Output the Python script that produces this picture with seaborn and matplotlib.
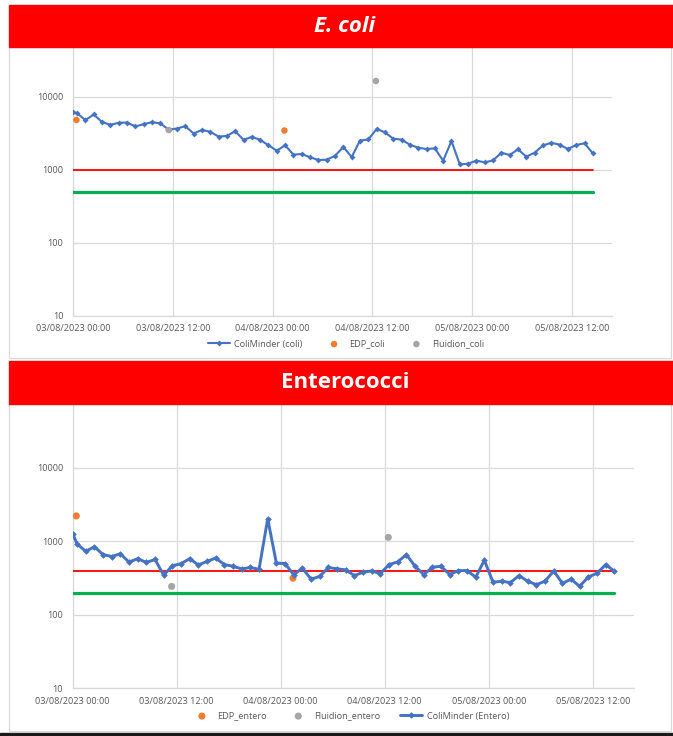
import numpy as np
import pandas as pd
import matplotlib
matplotlib.use("Agg")
import matplotlib.pyplot as plt
import matplotlib.dates as mdates
from matplotlib.patches import Rectangle
from matplotlib.ticker import FixedLocator, FuncFormatter, NullLocator
import seaborn as sns

sns.set_theme(style="white")
plt.rcParams["font.family"] = ["Open Sans", "DejaVu Sans"]

# ---------------- data ----------------
start = pd.Timestamp("2023-08-03 00:00")
sample_hours = [0.0] + [0.5 + k for k in range(63)]
times = start + pd.to_timedelta(sample_hours, unit="h")

coli_values = [6200, 5900, 4780, 5710, 4480, 4120, 4390, 4430, 3910, 4210,
               4480, 4300, 3550, 3660, 3950, 3130, 3510, 3300, 2840, 2900,
               3370, 2560, 2820, 2560, 2160, 1820, 2160, 1610, 1640, 1480,
               1360, 1370, 1550, 2050, 1490, 2500, 2600, 3610, 3250, 2660,
               2580, 2200, 2000, 1920, 1960, 1330, 2470, 1180, 1210, 1330,
               1260, 1340, 1710, 1590, 1900, 1510, 1710, 2150, 2340, 2200,
               1920, 2180, 2300, 1670]
entero_values = [1270, 920, 730, 840, 660, 620, 675, 520, 580, 515,
                 565, 345, 465, 495, 580, 475, 532, 590, 482, 457,
                 420, 440, 415, 2020, 505, 497, 350, 430, 305, 332,
                 440, 421, 408, 341, 379, 395, 363, 482, 524, 659,
                 457, 352, 443, 457, 352, 399, 399, 324, 551, 277,
                 286, 274, 341, 286, 257, 286, 395, 268, 304, 244,
                 327, 367, 482, 391]

edp_coli_times = ["2023-08-03 00:25", "2023-08-04 01:25"]
edp_coli_values = [4800, 3440]
fluidion_coli_times = ["2023-08-03 11:30", "2023-08-04 12:25"]
fluidion_coli_values = [3500, 16400]

edp_entero_times = ["2023-08-03 00:25", "2023-08-04 01:25"]
edp_entero_values = [2210, 315]
fluidion_entero_times = ["2023-08-03 11:25", "2023-08-04 12:25"]
fluidion_entero_values = [243, 1130]

coli_limits = [1000, 500]
entero_limits = [400, 200]

xtick_hours = [0, 12, 24, 36, 48, 60]
ytick_values = [10, 100, 1000, 10000]

# ---------------- layout ----------------
W, H = 673, 736
def fy(px):
    return 1 - px / H

BLUE, ORANGE, GRAY = "#4472C4", "#ED7D31", "#A5A5A5"
RED, GREEN = "#FF0000", "#00B050"
TXT, GRID = "#595959", "#D9D9D9"

fig = plt.figure(figsize=(W / 100, H / 100), dpi=100)
fig.patch.set_facecolor("white")

ax1 = fig.add_axes([73 / W, fy(315.7), (612 - 73) / W, (315.7 - 23.7) / H])
ax2 = fig.add_axes([72.7 / W, fy(688.3), (634.3 - 72.7) / W, (688.3 - 394.2) / H])


def draw(ax, values, edp_t, edp_v, flu_t, flu_v, limits, names, lw, ms, dot_s, line_z):
    df = pd.DataFrame({"time": times, "value": values})
    sns.lineplot(data=df, x="time", y="value", ax=ax, color=BLUE, lw=lw,
                 marker="D", markersize=ms, markeredgewidth=0,
                 label=names[0], zorder=line_z)
    sns.scatterplot(x=pd.to_datetime(edp_t), y=edp_v, ax=ax, color=ORANGE,
                    s=dot_s, edgecolor="none", label=names[1], zorder=5)
    sns.scatterplot(x=pd.to_datetime(flu_t), y=flu_v, ax=ax, color=GRAY,
                    s=dot_s, edgecolor="none", label=names[2], zorder=5)
    for lim, col, w in zip(limits, [RED, GREEN], [1.3, 2.3]):
        ldf = pd.DataFrame({"time": times, "value": np.full(len(times), lim)})
        sns.lineplot(data=ldf, x="time", y="value", ax=ax, color=col, lw=w,
                     legend=False, zorder=3)
    if ax.get_legend() is not None:
        ax.get_legend().remove()

    ax.set_yscale("log")
    ax.set_ylim(10, 1e5)
    ax.yaxis.set_major_locator(FixedLocator(ytick_values))
    ax.yaxis.set_major_formatter(FuncFormatter(lambda v, p: f"{v:.0f}"))
    ax.yaxis.set_minor_locator(NullLocator())
    ax.set_xlim(start, start + pd.Timedelta(hours=64.8))
    ax.set_xticks(start + pd.to_timedelta(xtick_hours, unit="h"))
    ax.xaxis.set_major_formatter(mdates.DateFormatter("%d/%m/%Y %H:%M"))
    ax.set_xlabel("")
    ax.set_ylabel("")
    ax.grid(True, which="major", color=GRID, lw=0.9)
    ax.set_axisbelow(True)
    ax.tick_params(length=0, labelsize=6.6, colors=TXT)
    ax.tick_params(axis="x", pad=6)
    ax.tick_params(axis="y", pad=7)
    for s in ["top", "right"]:
        ax.spines[s].set_visible(False)
    for s in ["left", "bottom"]:
        ax.spines[s].set_color(GRID)
        ax.spines[s].set_linewidth(0.9)


draw(ax1, coli_values, edp_coli_times, edp_coli_values,
     fluidion_coli_times, fluidion_coli_values, coli_limits,
     ["ColiMinder (coli)", "EDP_coli", "Fluidion_coli"], 1.5, 3, 22, 4)
draw(ax2, entero_values, edp_entero_times, edp_entero_values,
     fluidion_entero_times, fluidion_entero_values, entero_limits,
     ["ColiMinder (Entero)", "EDP_entero", "Fluidion_entero"], 2.1, 3.4, 26, 6)

# legends
h1, l1 = ax1.get_legend_handles_labels()
order1 = [l1.index(n) for n in ["ColiMinder (coli)", "EDP_coli", "Fluidion_coli"]]
fig.legend([h1[i] for i in order1], [l1[i] for i in order1], loc="center",
           bbox_to_anchor=(346 / W, fy(344)), ncol=3, frameon=False,
           fontsize=6.6, labelcolor=TXT, handlelength=2.4, columnspacing=2.2,
           handletextpad=0.5)
h2, l2 = ax2.get_legend_handles_labels()
order2 = [l2.index(n) for n in ["EDP_entero", "Fluidion_entero", "ColiMinder (Entero)"]]
fig.legend([h2[i] for i in order2], [l2[i] for i in order2], loc="center",
           bbox_to_anchor=(350 / W, fy(716)), ncol=3, frameon=False,
           fontsize=6.6, labelcolor=TXT, handlelength=2.4, columnspacing=2.2,
           handletextpad=0.5)

# chart area borders
fig.add_artist(Rectangle((9 / W, fy(358)), (671 - 9) / W, (358 - 47) / H,
                         transform=fig.transFigure, fill=False, ec=GRID, lw=0.9, zorder=9))
fig.add_artist(Rectangle((9 / W, fy(731)), (671 - 9) / W, (731 - 404) / H,
                         transform=fig.transFigure, fill=False, ec=GRID, lw=0.9, zorder=9))

# red title bars
fig.add_artist(Rectangle((9 / W, fy(46.7)), (W - 9) / W, (46.7 - 5) / H,
                         transform=fig.transFigure, color=RED, zorder=10))
fig.add_artist(Rectangle((9 / W, fy(404.3)), (W - 9) / W, (404.3 - 361) / H,
                         transform=fig.transFigure, color=RED, zorder=10))
fig.text(345 / W, fy(26), "E. coli", ha="center", va="center", color="white",
         fontsize=16, fontweight="bold", fontstyle="italic", zorder=11)
fig.text(345 / W, fy(383), "Enterococci", ha="center", va="center", color="white",
         fontsize=16, fontweight="bold", zorder=11)

# dark bottom edge
fig.add_artist(Rectangle((0, 0), 1, 3.5 / H, transform=fig.transFigure,
                         color="#1a1a1a", zorder=10))

fig.savefig("out.png", dpi=100)
